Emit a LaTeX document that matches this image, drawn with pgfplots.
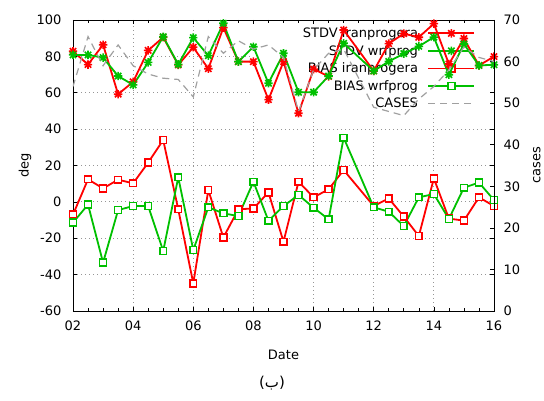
\documentclass[border=0pt]{standalone}
\usepackage{pgfplots}
\pgfplotsset{compat=1.18}
\usepackage{pgfplotstable}
\usepackage{fontspec}
\setmainfont{DejaVu Sans}
\newfontfamily\arabicfont[Script=Arabic]{DejaVu Sans}
\TeXXeTstate=1

\definecolor{gpred}{RGB}{255,0,0}
\definecolor{gpgreen}{RGB}{0,192,0}
\definecolor{gpgray}{RGB}{160,160,160}
\definecolor{gridgray}{RGB}{150,150,150}

\pgfdeclareplotmark{gpstar}{%
 \pgfpathmoveto{\pgfqpoint{-\pgfplotmarksize}{0pt}}\pgfpathlineto{\pgfqpoint{\pgfplotmarksize}{0pt}}%
 \pgfpathmoveto{\pgfqpoint{0pt}{-\pgfplotmarksize}}\pgfpathlineto{\pgfqpoint{0pt}{\pgfplotmarksize}}%
 \pgfpathmoveto{\pgfqpoint{-0.75\pgfplotmarksize}{-0.75\pgfplotmarksize}}\pgfpathlineto{\pgfqpoint{0.75\pgfplotmarksize}{0.75\pgfplotmarksize}}%
 \pgfpathmoveto{\pgfqpoint{-0.75\pgfplotmarksize}{0.75\pgfplotmarksize}}\pgfpathlineto{\pgfqpoint{0.75\pgfplotmarksize}{-0.75\pgfplotmarksize}}%
 \pgfusepathqstroke}

\tikzset{
  sira/.style={gpred, line width=1.8pt, mark=gpstar, mark size=4.2pt, mark options={solid, line width=1.6pt}},
  swrf/.style={gpgreen, line width=1.8pt, mark=gpstar, mark size=4.2pt, mark options={solid, line width=1.6pt}},
  bira/.style={gpred, line width=1.8pt, mark=square*, mark size=3.4pt, mark options={solid, fill=white, line width=1.5pt}},
  bwrf/.style={gpgreen, line width=1.8pt, mark=square*, mark size=3.4pt, mark options={solid, fill=white, line width=1.5pt}},
  cases/.style={gpgray, line width=1.2pt, dash pattern=on 7pt off 5pt},
}
\pgfplotsset{
  common/.style={scale only axis, width=421pt, height=291pt, at={(0,0)}, anchor=south west,
    xmin=2, xmax=16},
}

\pgfplotstableread{
x y
2.0 82.8
2.5 75.5
3.0 86.4
3.5 59.2
4.0 66.0
4.5 83.3
5.0 90.5
5.5 75.3
6.0 85.0
6.5 73.2
7.0 95.8
7.5 77.1
8.0 77.1
8.5 56.2
9.0 77.1
9.5 48.7
10.0 73.0
10.5 69.0
11.0 94.5
12.0 72.0
12.5 87.0
13.0 92.5
13.5 90.5
14.0 98.0
14.5 75.8
15.0 89.8
15.5 75.0
16.0 79.9
}\stdvira

\pgfplotstableread{
x y
2.0 80.8
2.5 80.8
3.0 79.3
3.5 69.2
4.0 64.3
4.5 76.7
5.0 90.8
5.5 75.6
6.0 90.3
6.5 80.4
7.0 98.2
7.5 77.1
8.0 85.3
8.5 65.2
9.0 81.7
9.5 60.3
10.0 60.3
10.5 69.2
11.0 87.2
12.0 72.0
12.5 77.2
13.0 81.5
13.5 85.5
14.0 90.6
14.5 69.9
15.0 86.8
15.5 75.0
16.0 75.4
}\stdvwrf

\pgfplotstableread{
x y
2.0 -7.0
2.5 12.4
3.0 7.4
3.5 12.2
4.0 10.2
4.5 21.6
5.0 34.0
5.5 -4.1
6.0 -44.8
6.5 6.5
7.0 -19.6
7.5 -4.1
8.0 -3.6
8.5 5.2
9.0 -21.9
9.5 11.1
10.0 2.5
10.5 6.9
11.0 17.5
12.0 -2.3
12.5 1.9
13.0 -8.1
13.5 -18.8
14.0 12.9
14.5 -9.2
15.0 -10.3
15.5 2.5
16.0 -2.3
}\biasira

\pgfplotstableread{
x y
2.0 -11.4
2.5 -1.5
3.0 -33.4
3.5 -4.5
4.0 -2.3
4.5 -2.3
5.0 -27.0
5.5 13.5
6.0 -26.5
6.5 -3.0
7.0 -6.3
7.5 -7.8
8.0 11.1
8.5 -10.4
9.0 -2.3
9.5 3.8
10.0 -3.2
10.5 -9.6
11.0 35.3
12.0 -3.0
12.5 -5.4
13.0 -13.3
13.5 2.5
14.0 4.3
14.5 -9.4
15.0 7.8
15.5 10.6
16.0 1.0
}\biaswrf

\pgfplotstableread{
x y
2.0 54
2.5 66
3.0 59
3.5 64
4.0 59
4.5 57
5.0 56
5.5 55.7
6.0 51.5
6.5 66
7.0 62
7.5 65
8.0 63
8.5 64
9.0 61
9.5 48
10.0 58
10.5 62
11.0 63
12.0 49
12.5 48
13.0 47
13.5 51
14.0 54
14.5 58
15.0 63.5
15.5 61
16.0 60
}\casestab

\begin{document}
\begin{tikzpicture}[font=\fontsize{13}{15}\selectfont]
\path[use as bounding box] (-73pt,-90pt) rectangle (471pt,311pt);

% grid layer with legend
\begin{axis}[common, ymin=-60, ymax=100,
  xtick={2,4,...,16}, ytick={-60,-40,...,100},
  xticklabels={}, yticklabels={},
  major tick length=0pt, tick style={draw=none},
  axis line style={draw=none},
  grid=major, grid style={gridgray, line width=0.8pt, dash pattern=on 0.8pt off 3.2pt},
  legend style={draw=none, fill=none, at={(0.956,0.983)}, anchor=north east,
    font=\fontsize{13}{15}\selectfont, inner sep=0pt, row sep=1.2pt, column sep=7pt,
    nodes={inner sep=2.5pt}},
  legend cell align=right, legend plot pos=right,
  legend image code/.code={\draw[mark repeat=2,mark phase=2,#1] plot coordinates {(0pt,0pt) (23pt,0pt) (46pt,0pt)};},
]
\fill[white] (rel axis cs:0.425,0.68) rectangle (rel axis cs:1,1);
\addlegendimage{sira}\addlegendentry{STDV iranprogera}
\addlegendimage{swrf}\addlegendentry{STDV wrfprog}
\addlegendimage{bira}\addlegendentry{BIAS iranprogera}
\addlegendimage{bwrf}\addlegendentry{BIAS wrfprog}
\addlegendimage{cases}\addlegendentry{CASES}
\end{axis}

% frame and deg data
\begin{axis}[common, ymin=-60, ymax=100,
  xtick={2,4,...,16}, xticklabels={02,04,06,08,10,12,14,16},
  minor x tick num=3,
  ytick={-60,-40,...,100},
  /pgf/number format/assume math mode=true,
  tick style={black, line width=0.6pt},
  axis line style={line width=0.8pt},
  tick label style={font=\fontsize{13}{15}\selectfont},
  yticklabel style={xshift=-8pt},
  xticklabel style={yshift=-6pt},
  xlabel={Date}, ylabel={deg},
  xlabel style={at={(axis description cs:0.5,-0.152)}, anchor=center, font=\fontsize{13}{15}\selectfont},
  ylabel style={at={(axis description cs:-0.114,0.5)}, anchor=center, font=\fontsize{13}{15}\selectfont},
]
\addplot[sira] table {\stdvira};
\addplot[swrf] table {\stdvwrf};
\addplot[bira] table {\biasira};
\addplot[bwrf] table {\biaswrf};
\end{axis}

% cases axis
\begin{axis}[common, ymin=0, ymax=70,
  axis y line*=right, axis x line=none,
  ytick={0,10,...,70},
  /pgf/number format/assume math mode=true,
  tick style={black, line width=0.6pt},
  axis line style={line width=0.8pt},
  tick label style={font=\fontsize{13}{15}\selectfont},
  yticklabel style={xshift=6pt},
  ylabel={cases},
  ylabel style={at={(axis description cs:1.102,0.5)}, anchor=center, font=\fontsize{13}{15}\selectfont},
]
\addplot[cases, no marks] table {\casestab};
\end{axis}

\node[font=\fontsize{15}{18}\selectfont] at (199pt,-72pt) {({\arabicfont\beginR ب\endR})};
\end{tikzpicture}
\end{document}
